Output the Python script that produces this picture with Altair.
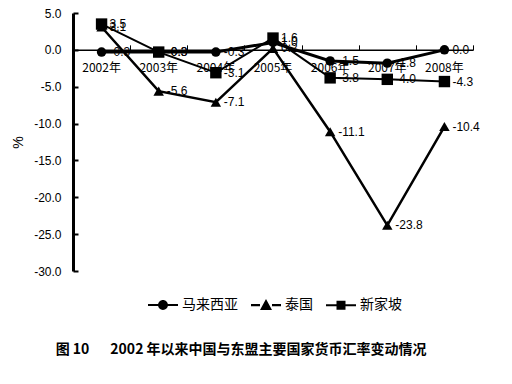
import altair as alt
import pandas as pd

years = ["2002年", "2003年", "2004年", "2005年", "2006年", "2007年", "2008年"]
series = ["马来西亚", "泰国", "新家坡"]
malaysia = [-0.3, -0.3, -0.3, 1.0, -1.5, -1.8, 0.0]
thailand = [3.1, -5.6, -7.1, 0.2, -11.1, -23.8, -10.4]
singapore = [3.5, -0.3, -3.1, 1.6, -3.8, -4.0, -4.3]
y_ticks = [5, 0, -5, -10, -15, -20, -25, -30]
caption = "图 10\u2003\u20022002 年以来中国与东盟主要国家货币汇率变动情况"

rows = []
for name, vals in zip(series, [malaysia, thailand, singapore]):
    for yr, v in zip(years, vals):
        rows.append({"year": yr, "country": name, "value": v})
df = pd.DataFrame(rows)

W, H = 400, 258
ymin, ymax = -30, 5
zero_from_top = H * (ymax - 0) / (ymax - ymin)

CJK = "Noto Sans CJK SC"
LAT = "Liberation Sans"

xscale = alt.Scale(type="band", domain=years, paddingInner=0, paddingOuter=0)
yscale = alt.Scale(domain=[ymin, ymax], nice=False, zero=False)

base = alt.Chart(df)

lines = base.mark_line(color="black").encode(
    x=alt.X("year:N", scale=xscale, sort=years, title=None,
            axis=alt.Axis(orient="bottom", offset=-(H - zero_from_top), ticks=False,
                          domain=True, domainColor="black", domainWidth=1.5,
                          labelFont=CJK, labelFontSize=12, labelColor="black",
                          labelPadding=13, labelAngle=0, grid=False)),
    y=alt.Y("value:Q", scale=yscale, title="%",
            axis=alt.Axis(orient="left", values=y_ticks, format=".1f", ticks=False,
                          labelExpr="replace(datum.label, '\u2212', '-')",
                          domain=True, domainColor="black", domainWidth=3,
                          labelFont=LAT, labelFontSize=12, labelColor="black",
                          labelPadding=12, grid=False, titleFont=LAT,
                          titleFontSize=14, titleFontWeight="normal",
                          titleColor="black", titlePadding=8)),
    detail="country:N",
    strokeWidth=alt.StrokeWidth("country:N", scale=alt.Scale(domain=series, range=[3, 2, 2]), legend=None),
)

points = base.mark_point(filled=True, color="black", opacity=1).encode(
    x=alt.X("year:N", scale=xscale, sort=years, title=None,
            axis=alt.Axis(orient="top", offset=-zero_from_top, labels=False, domain=False,
                          ticks=True, tickBand="extent", tickSize=5, tickColor="black",
                          tickWidth=1, grid=False)),
    y=alt.Y("value:Q", scale=yscale, title=None,
            axis=alt.Axis(orient="right", offset=-W, values=y_ticks, labels=False,
                          domain=False, ticks=True, tickSize=5, tickWidth=2,
                          tickColor="black", grid=False)),
    shape=alt.Shape("country:N", scale=alt.Scale(domain=series, range=["circle", "triangle-up", "square"]), legend=None),
    size=alt.Size("country:N", scale=alt.Scale(domain=series, range=[90, 130, 110]), legend=None),
)

labels = base.mark_text(align="left", baseline="middle", dx=8, font=LAT, fontSize=12, color="black").encode(
    x=alt.X("year:N", scale=xscale, sort=years, axis=None),
    y=alt.Y("value:Q", scale=yscale, axis=None),
    text=alt.Text("label:N"),
).transform_calculate(
    label="replace(format(datum.value, '.1f'), '\u2212', '-')"
)

legend_paths = [
    "M-1,-0.07H-0.3V0.07H-1Z M0.3,-0.07H1V0.07H0.3Z M-0.33,0A0.33,0.33 0 1,1 0.33,0A0.33,0.33 0 1,1 -0.33,0Z",
    "M-1,-0.07H-0.4V0.07H-1Z M0.4,-0.07H1V0.07H0.4Z M0,-0.4L0.4,0.32H-0.4Z",
    "M-1,-0.07H-0.3V0.07H-1Z M0.3,-0.07H1V0.07H0.3Z M-0.3,-0.3H0.3V0.3H-0.3Z",
]

legend_layer = base.mark_point(filled=True, color="black", opacity=1, size=900).encode(
    x=alt.X("year:N", scale=xscale, sort=years, axis=None),
    y=alt.Y("value:Q", scale=yscale, axis=None),
    shape=alt.Shape("country:N", scale=alt.Scale(domain=series, range=legend_paths),
                    legend=alt.Legend(orient="none", legendX=74, legendY=276,
                                      direction="horizontal", title=None,
                                      labelFont=CJK, labelFontSize=14, labelColor="black",
                                      labelOffset=3, columnPadding=10, symbolSize=900)),
).transform_filter("datum.value > 1000")

chart = alt.layer(lines, points, labels, legend_layer).resolve_scale(
    shape="independent"
).resolve_axis(
    x="independent", y="independent"
).properties(
    width=W, height=H,
    padding={"left": 65, "top": 5, "right": 30, "bottom": 105},
    autosize=alt.AutoSizeParams(type="none"),
    title=alt.TitleParams(caption, orient="bottom", anchor="start", dx=44, offset=30,
                          font=CJK, fontSize=14, fontWeight="bold", color="black"),
).configure_view(strokeWidth=0)

chart.save("out.html", embed_options={"renderer": "svg", "actions": False})
